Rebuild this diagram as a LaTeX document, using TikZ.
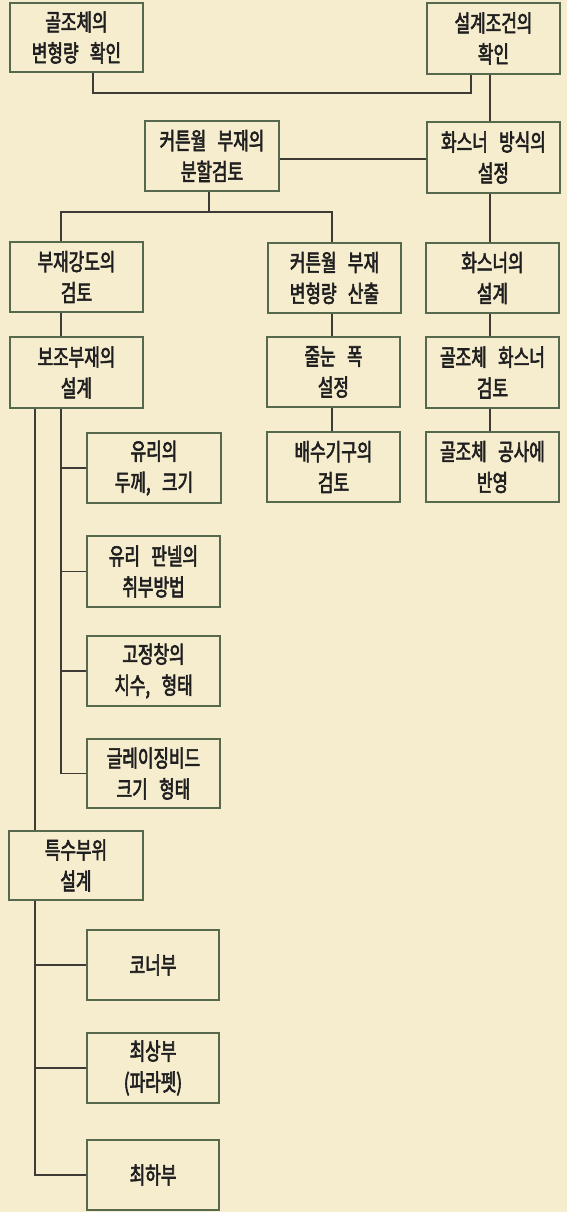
\documentclass[tikz,border=0pt]{standalone}
\usepackage{fontspec}
\setmainfont{Noto Sans CJK KR}[FakeStretch=0.72, FakeBold=2.5, WordSpace=3]
\definecolor{bgc}{HTML}{F6EDCF}
\definecolor{boxc}{HTML}{56694C}
\definecolor{linec}{HTML}{3E3A36}
\tikzset{
  boxnode/.style={draw=boxc, line width=1.7pt, align=center, inner sep=0pt,
    font=\fontsize{23.5}{31}\selectfont, text=black!88},
  conn/.style={draw=linec, line width=1.5pt}
}
\newcommand\bx[6]{%
  \node[boxnode, minimum width={(#4-#2)*1pt}, minimum height={(#5-#3)*1pt}]
    (#1) at ({(#2+#4)/2},{(#3+#5)/2}) {#6};}
\begin{document}
\begin{tikzpicture}[x=1pt,y=-1pt]
\fill[bgc] (0,0) rectangle (567,1212);
\useasboundingbox (0,0) rectangle (567,1212);
\bx{A}{10}{3}{143}{72}{골조체의\\변형량 확인}
\bx{B}{427}{3}{560}{74}{설계조건의\\확인}
\bx{C}{145}{121}{279}{191}{커튼월 부재의\\분할검토}
\bx{D}{427}{122}{560}{193}{화스너 방식의\\설정}
\bx{E}{10}{242}{143}{312}{부재강도의\\검토}
\bx{F}{268}{243}{401}{313}{커튼월 부재\\변형량 산출}
\bx{G}{426}{243}{559}{313}{화스너의\\설계}
\bx{H}{10}{337}{143}{408}{보조부재의\\설계}
\bx{I}{267}{337}{400}{407}{줄눈 폭\\설정}
\bx{J}{426}{337}{559}{408}{골조체 화스너\\검토}
\bx{K}{87}{433}{221}{503}{유리의\\두께, 크기}
\bx{L}{267}{432}{400}{502}{배수기구의\\검토}
\bx{M}{426}{432}{559}{502}{골조체 공사에\\반영}
\bx{N}{87}{536}{220}{607}{유리 판넬의\\취부방법}
\bx{O}{87}{636}{220}{706}{고정창의\\치수, 형태}
\bx{P}{87}{739}{220}{808}{글레이징비드\\크기 형태}
\bx{Q}{9}{831}{143}{900}{특수부위\\설계}
\bx{R}{87}{930}{219}{1000}{코너부}
\bx{S}{87}{1033}{219}{1103}{최상부\\(파라펫)}
\bx{T}{87}{1140}{219}{1210}{최하부}
% coordinates for connector routes
\coordinate (j1) at (93,93);
\coordinate (j2) at (471,93);
\coordinate (x490) at (490,0);
\coordinate (y159) at (0,159);
\coordinate (c1) at (209,212);
\coordinate (c2) at (61,212);
\coordinate (c3) at (332,212);
\coordinate (h1) at (61,0);
\coordinate (h2) at (35,0);
% connectors
\draw[conn] (A.south -| j1) -- (j1) -- (j2) -- (B.south -| j2);
\draw[conn] (B.south -| x490) -- (D.north -| x490);
\draw[conn] (C.east |- y159) -- (D.west |- y159);
\draw[conn] (D.south -| x490) -- (G.north -| x490);
\draw[conn] (G.south -| x490) -- (J.north -| x490);
\draw[conn] (J.south -| x490) -- (M.north -| x490);
\draw[conn] (C.south -| c1) -- (c1);
\draw[conn] (E.north -| c2) -- (c2) -- (c3) -- (F.north -| c3);
\draw[conn] (E.south -| c2) -- (H.north -| c2);
\draw[conn] (F.south -| c3) -- (I.north -| c3);
\draw[conn] (I.south -| c3) -- (L.north -| c3);
\draw[conn] (H.south -| h1) -- (P.west -| h1) -- (P.west);
\draw[conn] (K.west -| h1) -- (K.west);
\draw[conn] (N.west -| h1) -- (N.west);
\draw[conn] (O.west -| h1) -- (O.west);
\draw[conn] (H.south -| h2) -- (Q.north -| h2);
\draw[conn] (Q.south -| h2) -- (T.west -| h2) -- (T.west);
\draw[conn] (R.west -| h2) -- (R.west);
\draw[conn] (S.west -| h2) -- (S.west);
\end{tikzpicture}
\end{document}
